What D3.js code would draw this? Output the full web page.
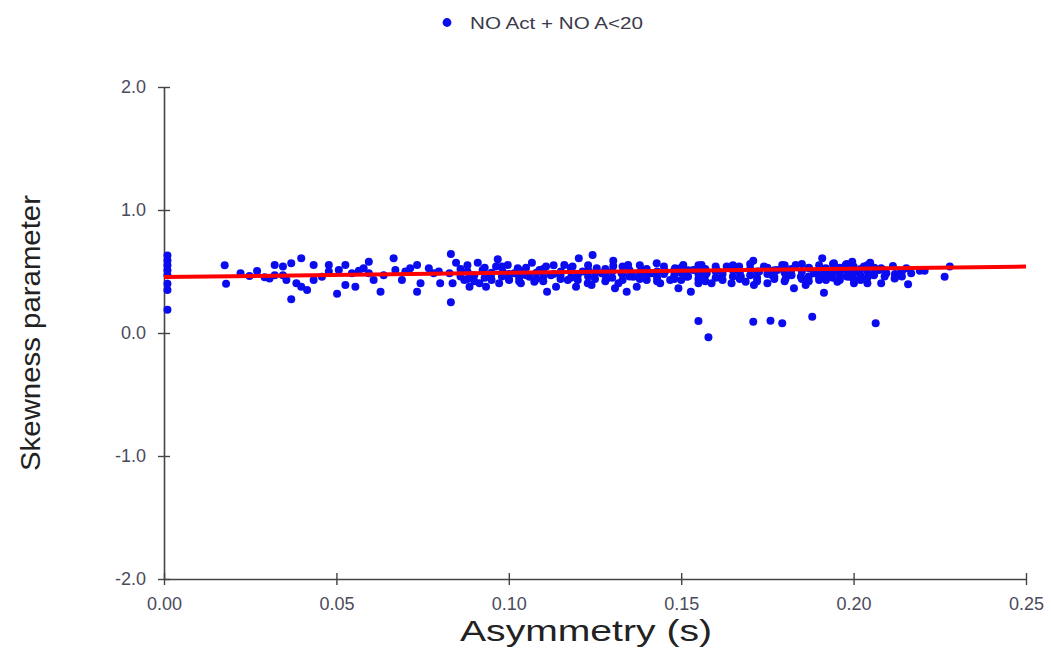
<!DOCTYPE html>
<html><head><meta charset="utf-8">
<script src="https://cdn.jsdelivr.net/npm/d3@7"></script>
<style>html,body{margin:0;padding:0;background:#fff;}svg{display:block;}</style>
</head><body>
<svg id="chart" width="1051" height="648"></svg>
<script>
// ---- data ----
const seriesName = "NO Act + NO A<20";
const xTicks = [0.00, 0.05, 0.10, 0.15, 0.20, 0.25];
const yTicks = [-2.0, -1.0, 0.0, 1.0, 2.0];
const fitX = [0.0, 0.25];
const fitY = [0.455, 0.54];

// individual points (x = asymmetry, y = skewness)
const ptsSparse = [
 [0.001,0.63],[0.001,0.59],[0.001,0.55],[0.001,0.51],[0.001,0.47],[0.001,0.40],[0.001,0.35],[0.001,0.19],
 [0.0176,0.55],[0.018,0.40],[0.0222,0.485],[0.0248,0.463],[0.027,0.504],[0.0292,0.453],[0.0306,0.444],
 [0.0321,0.553],[0.0321,0.47],[0.0345,0.54],[0.0345,0.47],[0.0355,0.43],[0.0369,0.567],[0.0369,0.274],
 [0.0384,0.404],[0.0398,0.607],[0.0398,0.376],[0.0415,0.35],[0.0434,0.553],[0.0434,0.43],[0.0458,0.458],
 [0.0478,0.553],[0.0478,0.50],[0.0502,0.32],[0.0507,0.512],[0.0526,0.553],[0.0526,0.39],[0.0545,0.485],
 [0.0555,0.376],[0.0565,0.506],[0.0579,0.526],[0.0594,0.58],[0.0594,0.485],[0.0608,0.43],[0.0628,0.336],
 [0.0637,0.47],[0.0666,0.607],[0.0671,0.512],[0.069,0.43],[0.070,0.50],[0.0714,0.526],[0.0734,0.553],
 [0.0734,0.336],[0.0744,0.404],[0.0768,0.526],[0.0782,0.485],[0.0797,0.50],[0.0801,0.404],[0.0832,0.642],
 [0.0832,0.25],[0.0847,0.572],[0.0828,0.485],[0.0837,0.404],[0.0861,0.50],[0.0871,0.43],[0.0886,0.376],
 [0.089,0.47],[0.091,0.572],[0.0915,0.404],[0.0924,0.512],[0.0934,0.376],[0.0948,0.458],[0.0963,0.54],
 [0.0968,0.60],[0.0972,0.404],[0.0982,0.50],[0.0997,0.553],[0.1001,0.43],[0.1016,0.485],[0.1026,0.526],
 [0.1035,0.404],[0.1045,0.50],[0.106,0.458],[0.1067,0.572],[0.1074,0.417],[0.1089,0.512],[0.1108,0.54],
 [0.1111,0.336],[0.1122,0.47],[0.1137,0.376],[0.1151,0.50],[0.1161,0.553],[0.1171,0.43],[0.1185,0.54],
 [0.1195,0.376],[0.1203,0.607],[0.1214,0.50],[0.1229,0.404],[0.1243,0.634],[0.124,0.39],[0.1255,0.526],
 [0.1269,0.485],[0.1284,0.444],[0.1303,0.588],[0.1303,0.545],[0.1308,0.363],[0.1318,0.404],[0.1327,0.485],
 [0.1342,0.336],[0.1346,0.553],[0.1361,0.458],[0.1371,0.376],[0.1385,0.512],[0.14,0.43],[0.1414,0.485],
 [0.1429,0.567],[0.1439,0.404],[0.1453,0.50],[0.1468,0.43],[0.1482,0.526],[0.1492,0.363],[0.1506,0.553],
 [0.1516,0.458],[0.1528,0.336],[0.1535,0.512],[0.155,0.404],[0.155,0.098],[0.1559,0.553],[0.1574,0.485],
 [0.1579,-0.035],[0.1588,0.404],[0.1603,0.512],[0.1617,0.444],[0.1632,0.54],[0.1646,0.404],[0.1668,0.54],
 [0.1673,0.458],[0.1687,0.417],[0.1709,0.588],[0.1709,0.092],[0.1711,0.39],[0.1726,0.50],[0.174,0.54],
 [0.175,0.404],[0.1759,0.10],[0.1764,0.47],[0.1779,0.512],[0.1793,0.553],[0.1793,0.079],[0.1803,0.444],
 [0.1818,0.485],[0.1827,0.363],[0.1832,0.553],[0.1847,0.458],[0.1861,0.39],[0.1871,0.526],[0.188,0.133],
 [0.1885,0.485],[0.19,0.43],[0.1909,0.607],[0.1914,0.328],[0.1919,0.526],[0.1934,0.47],[0.1943,0.567],
 [0.1953,0.417],[0.1963,0.512],[0.1977,0.553],[0.1987,0.458],[0.1996,0.58],[0.2001,0.404],[0.2016,0.50],
 [0.203,0.54],[0.204,0.404],[0.2048,0.572],[0.2059,0.47],[0.2064,0.079],[0.2074,0.512],[0.208,0.526],
 [0.208,0.404],[0.2095,0.485],[0.2114,0.545],[0.2119,0.444],[0.2138,0.50],[0.2153,0.526],[0.2158,0.396],
 [0.2167,0.485],[0.2192,0.506],[0.2206,0.506],[0.2264,0.458],[0.2279,0.54]
];
// dense band points
const ptsBand = [
 [0.086,0.46],[0.086,0.52],[0.088,0.44],[0.088,0.50],[0.088,0.55],[0.090,0.47],[0.090,0.42],
 [0.093,0.45],[0.093,0.53],[0.095,0.49],[0.095,0.43],[0.098,0.46],[0.098,0.54],[0.100,0.48],[0.100,0.44],
 [0.103,0.51],[0.103,0.45],[0.103,0.42],[0.105,0.47],[0.105,0.53],[0.108,0.44],[0.108,0.49],
 [0.110,0.46],[0.110,0.52],[0.110,0.42],[0.113,0.48],[0.113,0.55],[0.115,0.44],[0.115,0.47],
 [0.118,0.50],[0.118,0.45],[0.118,0.53],[0.120,0.47],[0.120,0.43],[0.123,0.51],[0.123,0.46],[0.123,0.55],
 [0.125,0.44],[0.125,0.49],[0.128,0.52],[0.128,0.47],[0.128,0.42],[0.130,0.45],[0.130,0.50],
 [0.133,0.48],[0.133,0.54],[0.133,0.43],[0.135,0.46],[0.135,0.51],[0.138,0.44],[0.138,0.49],[0.138,0.55],
 [0.140,0.47],[0.140,0.52],[0.143,0.45],[0.143,0.50],[0.143,0.42],[0.145,0.48],[0.145,0.54],
 [0.148,0.44],[0.148,0.47],[0.148,0.51],[0.150,0.49],[0.150,0.53],[0.150,0.43],[0.152,0.46],[0.152,0.51],
 [0.155,0.44],[0.155,0.48],[0.155,0.55],[0.157,0.47],[0.157,0.52],[0.157,0.42],[0.160,0.45],[0.160,0.50],
 [0.160,0.54],[0.162,0.48],[0.162,0.43],[0.165,0.46],[0.165,0.51],[0.165,0.55],[0.167,0.44],[0.167,0.49],
 [0.170,0.47],[0.170,0.52],[0.170,0.56],[0.172,0.45],[0.172,0.42],[0.172,0.50],[0.175,0.48],[0.175,0.53],
 [0.177,0.44],[0.177,0.51],[0.177,0.46],[0.180,0.49],[0.180,0.55],[0.180,0.42],[0.182,0.47],[0.182,0.52],
 [0.185,0.44],[0.185,0.50],[0.185,0.56],[0.187,0.46],[0.187,0.53],[0.187,0.42],[0.190,0.49],[0.190,0.45],
 [0.190,0.55],[0.192,0.47],[0.192,0.52],[0.192,0.43],[0.194,0.50],[0.194,0.56],[0.194,0.45],[0.196,0.48],
 [0.196,0.53],[0.196,0.43],[0.198,0.46],[0.198,0.51],[0.198,0.56],[0.200,0.44],[0.200,0.49],[0.200,0.54],
 [0.202,0.47],[0.202,0.52],[0.202,0.43],[0.204,0.45],[0.204,0.50],[0.204,0.55],[0.206,0.48],[0.206,0.53],
 [0.209,0.46],[0.209,0.51],[0.212,0.48],[0.212,0.45],[0.214,0.50],[0.214,0.46]
];
const points = ptsSparse.concat(ptsBand);

// ---- drawing ----
const svg = d3.select("#chart");
const mLeft = 164, mRight = 1026, mTop = 87, mBottom = 579;
const x = d3.scaleLinear().domain([0, 0.25]).range([mLeft, mRight]);
const y = d3.scaleLinear().domain([-2, 2]).range([mBottom, mTop]);
const axisColor = "#444";
const labelColor = "#4b4a5c";
const font = "'Liberation Sans', Arial, sans-serif";
const fmtY = d => d3.format(".1f")(d).replace("\u2212", "-");

// legend
svg.append("circle").attr("cx", 447).attr("cy", 22.5).attr("r", 4.4).attr("fill", "#0b0bf0");
svg.append("text").attr("x", 470).attr("y", 28.5).text(seriesName)
  .attr("font-family", font).attr("font-size", 17).attr("fill", "#3a3a4a")
  .attr("textLength", 173).attr("lengthAdjust", "spacingAndGlyphs");

// x axis
const xAxis = svg.append("g").attr("transform", `translate(0,${mBottom})`)
  .call(d3.axisBottom(x).tickValues(xTicks).tickFormat(d3.format(".2f")).tickSizeInner(6).tickSizeOuter(0).tickPadding(12));
xAxis.select(".domain").attr("stroke", axisColor).attr("stroke-width", 1.6);
xAxis.selectAll(".tick line").attr("stroke", axisColor).attr("stroke-width", 1.4).attr("y1", -6).attr("y2", 6);
xAxis.selectAll(".tick text").attr("font-family", font).attr("font-size", 18).attr("fill", labelColor);

// y axis
const yAxis = svg.append("g").attr("transform", `translate(${mLeft},0)`)
  .call(d3.axisLeft(y).tickValues(yTicks).tickFormat(fmtY).tickSizeInner(6).tickSizeOuter(0).tickPadding(12));
yAxis.select(".domain").attr("stroke", axisColor).attr("stroke-width", 1.6);
yAxis.selectAll(".tick line").attr("stroke", axisColor).attr("stroke-width", 1.4).attr("x1", -6).attr("x2", 6);
yAxis.selectAll(".tick text").attr("font-family", font).attr("font-size", 18).attr("fill", labelColor);

// axis titles
svg.append("text").attr("x", 586).attr("y", 641).attr("text-anchor", "middle")
  .text("Asymmetry (s)").attr("font-family", font).attr("font-size", 29).attr("fill", "#222")
  .attr("textLength", 252).attr("lengthAdjust", "spacingAndGlyphs");
svg.append("text").attr("transform", "translate(40,333) rotate(-90)").attr("text-anchor", "middle")
  .text("Skewness parameter").attr("font-family", font).attr("font-size", 28).attr("fill", "#222")
  .attr("textLength", 276).attr("lengthAdjust", "spacingAndGlyphs");

// points
svg.append("g").selectAll("circle").data(points).join("circle")
  .attr("cx", d => x(d[0])).attr("cy", d => y(d[1])).attr("r", 4).attr("fill", "#0b0bf0");

// fit line
svg.append("path").datum(fitX.map((v, i) => [v, fitY[i]]))
  .attr("d", d3.line().x(d => x(d[0])).y(d => y(d[1])))
  .attr("stroke", "#ff0000").attr("stroke-width", 4).attr("fill", "none");
</script>
</body></html>
